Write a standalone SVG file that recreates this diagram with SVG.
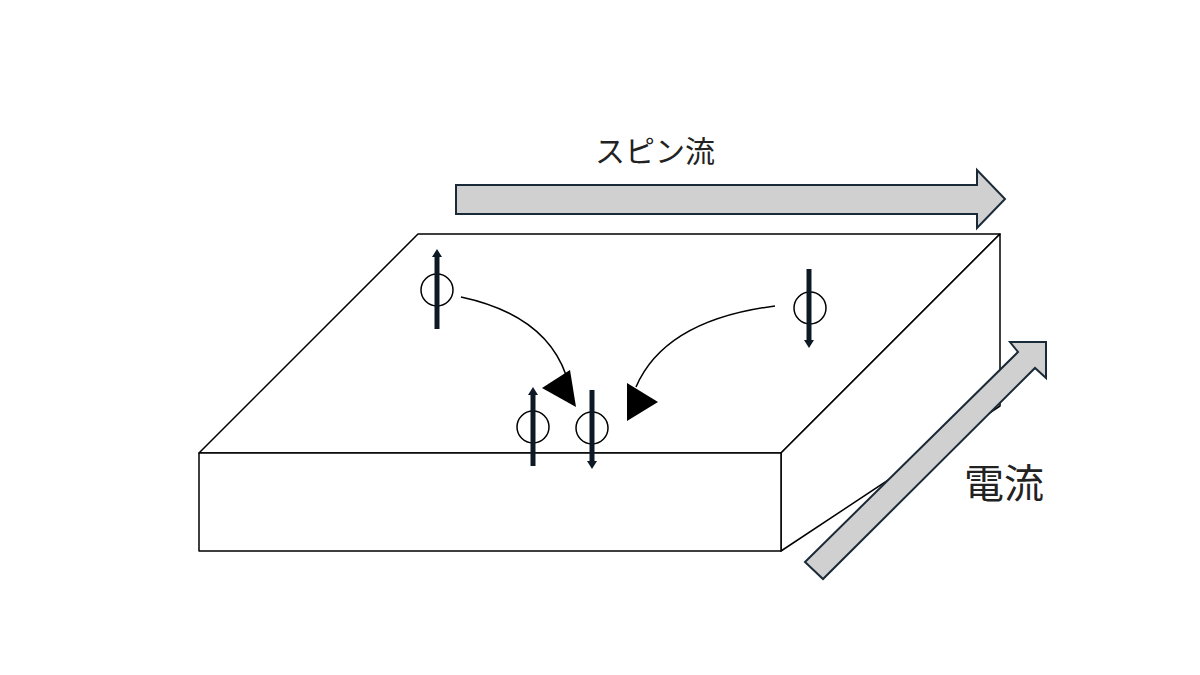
<svg xmlns="http://www.w3.org/2000/svg" width="1200" height="675" viewBox="0 0 1200 675">
<style>
.box{fill:#fff;stroke:#000;stroke-width:1.5;stroke-linejoin:round}
.big{fill:#d0d0d0;stroke:#1a2a38;stroke-width:2}
.bar{stroke:#0d1a26;stroke-width:5}
.ring{fill:none;stroke:#000;stroke-width:1.5}
.curve{fill:none;stroke:#000;stroke-width:1.5}
.t{font-family:"Noto Sans CJK JP","Noto Sans",sans-serif;fill:#222}
</style>
<rect width="1200" height="675" fill="#fff"/>
<g id="slab">
<polygon class="box" points="199,453 418,234 1000,234 781,453"/>
<polygon class="box" points="781,453 1000,234 1000,406 781,551"/>
<rect class="box" x="199" y="453" width="582" height="98"/>
</g>
<g id="spin-current">
<polygon class="big" points="456,185 977,185 977,170 1005,199 977,228 977,214 456,214"/>
<text class="t" x="595" y="162" font-size="30">スピン流</text>
</g>
<g id="charge-current">
<polygon class="big" points="805,562 1018,352 1010,342 1046,342 1046,378 1035,368 823,579"/>
<text class="t" x="964" y="498" font-size="40">電流</text>
</g>
<g id="spin1"><circle class="ring" cx="437" cy="290" r="16"/><line class="bar" x1="437" y1="256" x2="437" y2="329"/><polygon points="432,257 437,249 442,257" fill="#0d1a26"/></g>
<g id="spin2"><circle class="ring" cx="810" cy="308" r="16"/><line class="bar" x1="809" y1="269" x2="809" y2="341"/><polygon points="804,340 809,348 814,340" fill="#0d1a26"/></g>
<g id="spin3"><circle class="ring" cx="533" cy="427" r="16"/><line class="bar" x1="533" y1="394" x2="533" y2="466"/><polygon points="528,395 533,387 538,395" fill="#0d1a26"/></g>
<g id="spin4"><circle class="ring" cx="592" cy="428" r="16"/><line class="bar" x1="592" y1="390" x2="592" y2="462"/><polygon points="587,461 592,469 597,461" fill="#0d1a26"/></g>
<g id="connectors">
<path class="curve" d="M461,297 Q545,315 566,375"/>
<polygon points="542,388 570,370 576,407"/>
<path class="curve" d="M775,306 Q665,320 636,387"/>
<polygon points="627,383 658,402 627,421"/>
</g>
</svg>
